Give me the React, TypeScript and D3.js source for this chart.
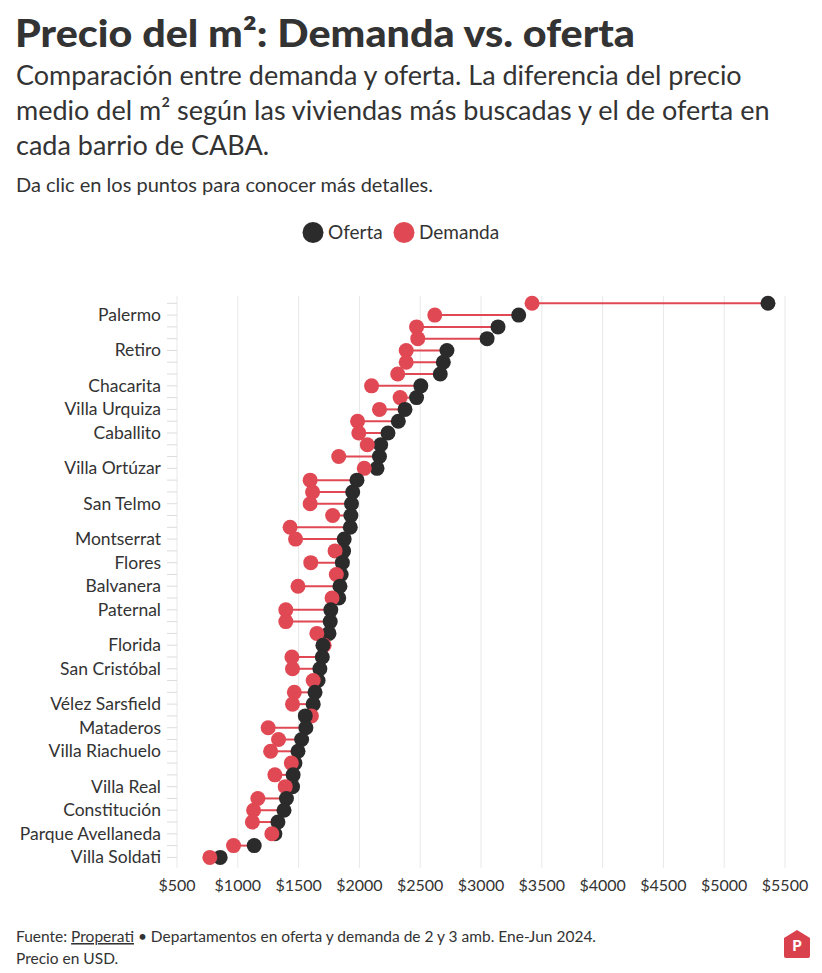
import React from "react";
import * as d3 from "d3";

const barrios = [
  "Puerto Madero", "Palermo", "Belgrano", "Núñez", "Retiro", "Recoleta", "Colegiales", "Chacarita",
  "Coghlan", "Villa Urquiza", "Saavedra", "Caballito", "Villa Crespo", "Almagro", "Villa Ortúzar", "Villa Devoto",
  "Agronomía", "San Telmo", "Villa del Parque", "Parque Chas", "Montserrat", "San Nicolás", "Flores", "Boedo",
  "Balvanera", "Villa Pueyrredón", "Paternal", "Villa Santa Rita", "Monte Castro", "Florida", "Villa General Mitre", "San Cristóbal",
  "Villa Luro", "Parque Chacabuco", "Vélez Sarsfield", "Liniers", "Mataderos", "Floresta", "Villa Riachuelo", "Versalles",
  "Barracas", "Villa Real", "Parque Patricios", "Constitución", "Boca", "Parque Avellaneda", "Villa Lugano", "Villa Soldati",
];

const oferta = [
  5360, 3310, 3140, 3050, 2720, 2690, 2665, 2505,
  2470, 2375, 2320, 2235, 2175, 2165, 2145, 1980,
  1945, 1935, 1930, 1925, 1875, 1870, 1860, 1850,
  1840, 1830, 1765, 1760, 1750, 1700, 1695, 1675,
  1660, 1635, 1620, 1555, 1560, 1525, 1495, 1470,
  1455, 1450, 1400, 1380, 1330, 1305, 1135, 855,
];

const demanda = [
  3420, 2620, 2470, 2480, 2385, 2385, 2315, 2100,
  2335, 2165, 1985, 1995, 2065, 1830, 2040, 1595,
  1615, 1595, 1780, 1430, 1475, 1800, 1600, 1810,
  1495, 1775, 1395, 1395, 1650, 1710, 1445, 1450,
  1620, 1465, 1450, 1605, 1250, 1335, 1270, 1440,
  1305, 1390, 1165, 1130, 1120, 1280, 965, 770,
];

const visibleLabels = [
  "Palermo", "Retiro", "Chacarita", "Villa Urquiza", "Caballito", "Villa Ortúzar", "San Telmo", "Montserrat",
  "Flores", "Balvanera", "Paternal", "Florida", "San Cristóbal", "Vélez Sarsfield", "Mataderos", "Villa Riachuelo",
  "Villa Real", "Constitución", "Parque Avellaneda", "Villa Soldati",
];

const xTicks = [500, 1000, 1500, 2000, 2500, 3000, 3500, 4000, 4500, 5000, 5500];

const COL_OFERTA = "#2b2b2b";
const COL_DEMANDA = "#e04853";
const TEXT = "#333333";
const FONT = "Lato, 'Open Sans', sans-serif";

export default function App() {
  const W = 822;
  const H = 973;
  const x = d3.scaleLinear().domain([500, 5500]).range([177, 785]);
  const y = d3.scalePoint<string>().domain(barrios).range([303.3, 857.4]);
  const r = 7.5;

  const rows = barrios.map((b, i) => ({ b, o: oferta[i], d: demanda[i] }));

  return (
    <svg width={W} height={H} style={{ position: "absolute", left: 0, top: 0, background: "#fff", fontFamily: FONT }}>
      <rect x={0} y={0} width={W} height={H} fill="#ffffff" />
      <text x={15} y={47} fontSize={37} fontWeight={900} fill={TEXT} textLength={620} lengthAdjust="spacingAndGlyphs">Precio del m²: Demanda vs. oferta</text>
      <text fontSize={27} fill={TEXT}>
        <tspan x={16} y={85}>Comparación entre demanda y oferta. La diferencia del precio</tspan>
        <tspan x={16} y={120}>medio del m² según las viviendas más buscadas y el de oferta en</tspan>
        <tspan x={16} y={155}>cada barrio de CABA.</tspan>
      </text>
      <text x={16} y={192} fontSize={20} fill={TEXT}>Da clic en los puntos para conocer más detalles.</text>

      {/* legend */}
      <circle cx={313} cy={232.5} r={10.5} fill={COL_OFERTA} />
      <text x={328} y={239} fontSize={19} fill={TEXT}>Oferta</text>
      <circle cx={404} cy={232.5} r={10.5} fill={COL_DEMANDA} />
      <text x={419} y={239} fontSize={19} fill={TEXT}>Demanda</text>

      {/* grid */}
      {xTicks.map((t) => (
        <g key={t}>
          <line x1={x(t)} x2={x(t)} y1={296} y2={868} stroke="#e8e8e8" strokeWidth={1} />
          <text x={x(t)} y={891} fontSize={16} textAnchor="middle" fill={TEXT}>{d3.format("$")(t).replace(",", "")}</text>
        </g>
      ))}

      {/* y ticks and labels */}
      {barrios.map((b) => (
        <g key={b}>
          <line x1={167} x2={177} y1={y(b)} y2={y(b)} stroke="#dddddd" strokeWidth={1} />
          {visibleLabels.includes(b) && (
            <text x={161} y={(y(b) as number) + 6} fontSize={17.5} textAnchor="end" fill={TEXT}>{b}</text>
          )}
        </g>
      ))}

      {/* connectors */}
      {rows.map((d) => (
        <line key={"l" + d.b} x1={x(d.o)} x2={x(d.d)} y1={y(d.b)} y2={y(d.b)} stroke={COL_DEMANDA} strokeWidth={2} />
      ))}

      {/* dots: larger value drawn first */}
      {rows.map((d) => {
        const pair = [
          { v: d.o, c: COL_OFERTA, k: "o" },
          { v: d.d, c: COL_DEMANDA, k: "d" },
        ].sort((a, b) => b.v - a.v);
        return (
          <g key={"c" + d.b}>
            {pair.map((p) => (
              <circle key={p.k} cx={x(p.v)} cy={y(d.b)} r={r} fill={p.c} />
            ))}
          </g>
        );
      })}

      {/* footer */}
      <text x={16} y={942} fontSize={15.5} fill={TEXT}>
        Fuente: <tspan textDecoration="underline">Properati</tspan> • Departamentos en oferta y demanda de 2 y 3 amb. Ene-Jun 2024.
      </text>
      <text x={16} y={964} fontSize={15.5} fill={TEXT}>Precio en USD.</text>

      {/* logo */}
      <path d="M784,938 L797,930 L810,938 L810,956 Q810,958 808,958 L786,958 Q784,958 784,956 Z" fill="#d9414d" />
      <text x={797} y={951} fontSize={15} fontWeight={900} fill="#fff" textAnchor="middle">P</text>
    </svg>
  );
}
